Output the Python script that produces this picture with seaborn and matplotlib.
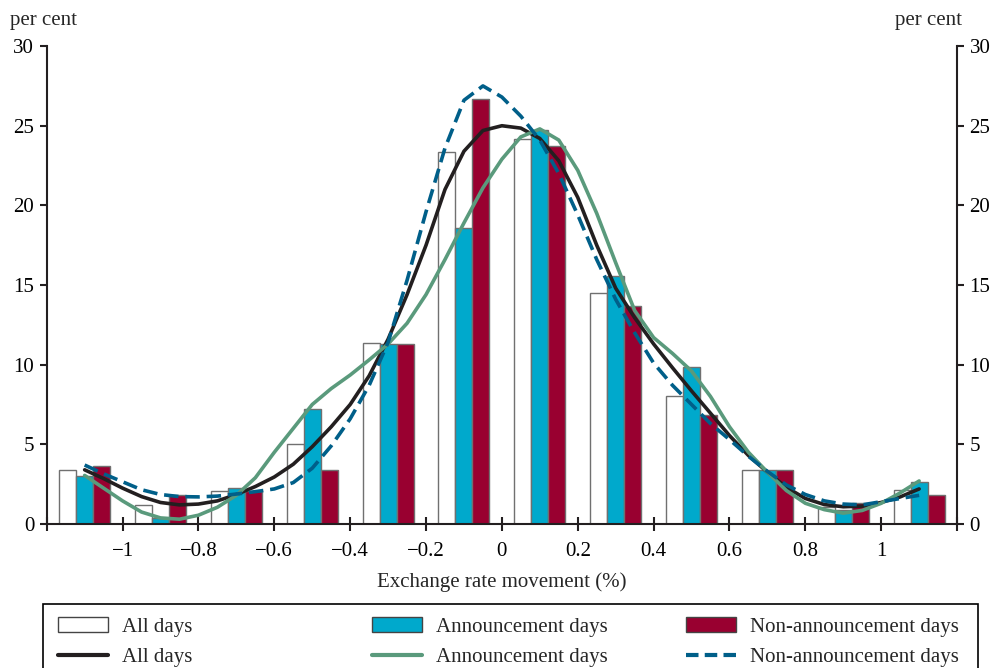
import numpy as np
import pandas as pd
import seaborn as sns
import matplotlib.pyplot as plt
from matplotlib.patches import Patch, Rectangle
from matplotlib.lines import Line2D

# histogram bins (centres, %)
bin_centres = [-1.1, -0.9, -0.7, -0.5, -0.3, -0.1, 0.1, 0.3, 0.5, 0.7, 0.9, 1.1]
all_days = [3.4, 1.2, 2.1, 5.0, 11.35, 23.35, 24.15, 14.5, 8.05, 3.4, 1.05, 2.15]
ann_days = [3.0, 0.35, 2.25, 7.2, 11.3, 18.6, 24.75, 15.55, 9.85, 3.4, 0.9, 2.65]
non_ann_days = [3.65, 1.8, 2.1, 3.4, 11.3, 26.65, 23.75, 13.7, 6.85, 3.4, 1.3, 1.8]

curve_x = [round(-1.1 + 0.05 * i, 2) for i in range(45)]
curve_all = [3.4, 2.85, 2.25, 1.72, 1.35, 1.2, 1.25, 1.45, 1.85, 2.35, 2.95, 3.75,
             4.85, 6.1, 7.5, 9.3, 11.6, 14.4, 17.5, 21.0, 23.4, 24.7, 25.0, 24.85,
             24.2, 22.8, 20.5, 17.5, 14.8, 12.95, 11.3, 9.8, 8.35, 6.95, 5.55, 4.3,
             3.25, 2.3, 1.6, 1.22, 1.08, 1.12, 1.35, 1.7, 2.2]
curve_ann = [3.05, 2.25, 1.45, 0.75, 0.38, 0.3, 0.55, 1.05, 1.8, 2.9, 4.5, 6.0,
             7.5, 8.5, 9.35, 10.3, 11.3, 12.6, 14.4, 16.6, 18.9, 21.1, 22.9, 24.3,
             24.8, 24.1, 22.2, 19.5, 16.4, 13.4, 11.7, 10.7, 9.6, 8.0, 6.1, 4.5,
             3.25, 2.1, 1.3, 0.9, 0.68, 0.85, 1.3, 1.95, 2.7]
curve_non = [3.7, 3.15, 2.65, 2.15, 1.85, 1.72, 1.7, 1.75, 1.88, 2.03, 2.2, 2.6,
             3.5, 4.9, 6.6, 8.7, 11.4, 15.3, 19.6, 23.6, 26.6, 27.5, 26.8, 25.6,
             24.1, 22.0, 19.4, 16.6, 14.1, 12.0, 10.1, 8.7, 7.5, 6.3, 5.3, 4.25,
             3.3, 2.45, 1.85, 1.45, 1.25, 1.2, 1.4, 1.6, 1.8]

groups = ["All days", "Announcement days", "Non-announcement days"]
bar_cols = ["#ffffff", "#00a9cc", "#990030"]
line_cols = ["#231f20", "#5a9a7c", "#005f89"]

sns.set_style("ticks")
plt.rcParams["font.family"] = ["Liberation Serif", "DejaVu Serif"]
plt.rcParams["font.size"] = 15

bars = pd.DataFrame({
    "x": bin_centres * 3,
    "pct": all_days + ann_days + non_ann_days,
    "group": [g for g in groups for _ in bin_centres],
})

fig = plt.figure(figsize=(9.98, 6.68), dpi=100)
ax = fig.add_axes([0.0468, 0.2156, 0.9122, 0.7154])

sns.barplot(data=bars, x="x", y="pct", hue="group", hue_order=groups,
            palette=bar_cols, saturation=1, native_scale=True, width=0.672, gap=0,
            edgecolor="#707070", linewidth=1, legend=False, ax=ax)

for yv, col in zip([curve_all, curve_ann], line_cols[:2]):
    sns.lineplot(x=curve_x, y=yv, color=col, linewidth=2.6, ax=ax)
sns.lineplot(x=curve_x, y=curve_non, color=line_cols[2], linewidth=2.6,
             ax=ax).lines[-1].set_dashes((4, 1.9))

ax.set_xlim(-1.2, 1.2)
ax.set_ylim(0, 30)
xt = [-1.2, -1.0, -0.8, -0.6, -0.4, -0.2, 0.0, 0.2, 0.4, 0.6, 0.8, 1.0, 1.2]
xl = ["", "\u22121", "\u22120.8", "\u22120.6", "\u22120.4", "\u22120.2", "0",
      "0.2", "0.4", "0.6", "0.8", "1", ""]
ax.set_xticks(xt)
ax.set_xticklabels(xl)
ax.set_yticks(range(0, 31, 5))
ax.tick_params(axis="x", direction="inout", length=10, width=1.5, colors="#231f20",
               labelcolor="black", pad=8)
ax.tick_params(axis="y", direction="out", length=5, width=1.5, colors="#231f20",
               labelcolor="black", right=True, labelright=True, pad=4)
ax.set_xlabel("Exchange rate movement (%)", labelpad=8)
ax.set_ylabel("")
for s in ["left", "right", "bottom"]:
    ax.spines[s].set_visible(True)
    ax.spines[s].set_linewidth(1.5)
    ax.spines[s].set_color("#231f20")
ax.spines["top"].set_visible(False)

fig.text(0.010, 0.970, "per cent", ha="left", va="center")
fig.text(0.964, 0.970, "per cent", ha="right", va="center")

# legend: box running off the bottom edge, three evenly placed columns
fig.patches.append(Rectangle((43 / 998, -0.05), (978 - 43) / 998, 0.05 + 1 - 604 / 668,
                             transform=fig.transFigure, fill=False,
                             edgecolor="black", linewidth=1.2))
col_left = [58, 372, 686]
for i in range(3):
    h = [Patch(facecolor=bar_cols[i], edgecolor="#444444", linewidth=1),
         Line2D([], [], color=line_cols[i], linewidth=3,
                linestyle=(0, (3, 1.5)) if i == 2 else "-")]
    fig.legend(h, [groups[i], groups[i]], loc="upper left",
               bbox_to_anchor=(col_left[i] / 998, 1 - 617 / 668),
               borderaxespad=0, borderpad=0, frameon=False,
               handlelength=2.4, handletextpad=0.65, labelspacing=0.52,
               fontsize=15)

fig.savefig("out.png", dpi=100)
